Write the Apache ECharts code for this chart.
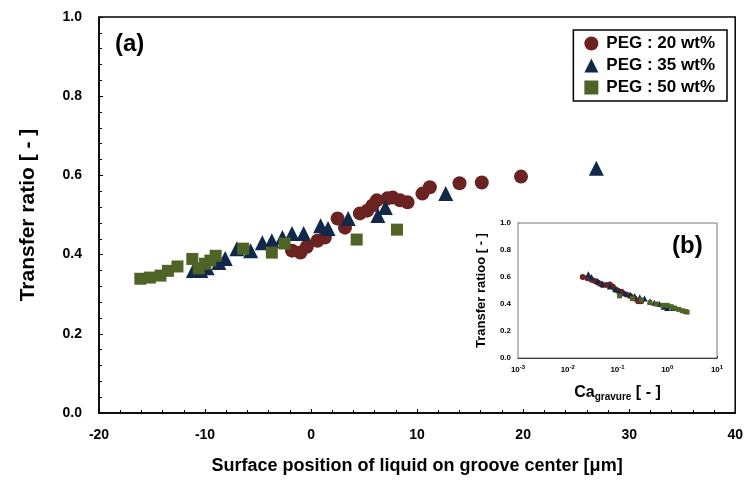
<!DOCTYPE html>
<html>
<head>
<meta charset="utf-8">
<script src="https://cdn.jsdelivr.net/npm/echarts@6/dist/echarts.min.js"></script>
<style>
  html, body { margin: 0; padding: 0; background: #fff; }
  #chart { width: 746px; height: 481px; }
</style>
</head>
<body>
<div id="chart"></div>
<script>
// main panel (a): surface position [um] vs transfer ratio
const peg20 = [
  [-1.8, 0.410], [-1.0, 0.405], [-0.4, 0.420], [0.6, 0.435], [1.3, 0.443],
  [2.5, 0.491], [3.2, 0.468], [4.6, 0.504], [5.3, 0.511], [5.8, 0.524],
  [6.2, 0.537], [7.2, 0.542], [7.7, 0.544], [8.4, 0.537], [9.1, 0.532],
  [10.5, 0.554], [11.2, 0.570], [14.0, 0.580], [16.1, 0.582], [19.8, 0.597]
];
const peg35 = [
  [-11.1, 0.360], [-10.4, 0.360], [-9.8, 0.367], [-8.7, 0.380], [-8.1, 0.390],
  [-7.0, 0.415], [-5.7, 0.410], [-4.6, 0.430], [-3.7, 0.435], [-2.7, 0.443],
  [-1.8, 0.453], [-0.7, 0.453], [0.9, 0.473], [1.6, 0.466], [3.5, 0.491],
  [6.3, 0.499], [7.0, 0.519], [12.7, 0.554], [26.9, 0.618]
];
const peg50 = [
  [-16.1, 0.339], [-15.2, 0.342], [-14.2, 0.347], [-13.5, 0.359], [-12.6, 0.370],
  [-11.2, 0.389], [-10.6, 0.365], [-10.0, 0.377], [-9.5, 0.385], [-9.0, 0.397],
  [-6.4, 0.415], [-3.7, 0.405], [-2.5, 0.428], [4.3, 0.438], [8.1, 0.463]
];

// inset (b): Ca_gravure vs transfer ratio
const inset20 = [
  [0.020, 0.60], [0.025, 0.59], [0.030, 0.58], [0.035, 0.57], [0.040, 0.56],
  [0.045, 0.55], [0.050, 0.54], [0.060, 0.54], [0.070, 0.545], [0.080, 0.53],
  [0.090, 0.51], [0.10, 0.50], [0.12, 0.49], [0.15, 0.47], [0.18, 0.46],
  [0.22, 0.44], [0.26, 0.42], [0.30, 0.42]
];
const inset35 = [
  [0.026, 0.62], [0.030, 0.60], [0.040, 0.57], [0.050, 0.55], [0.070, 0.53],
  [0.090, 0.51], [0.11, 0.49], [0.14, 0.48], [0.18, 0.47], [0.22, 0.46],
  [0.28, 0.45], [0.35, 0.44], [0.45, 0.42], [0.55, 0.41], [0.70, 0.40],
  [0.85, 0.38], [1.0, 0.37], [1.3, 0.37]
];
const inset50 = [
  [0.11, 0.46], [0.20, 0.44], [0.30, 0.43], [0.45, 0.41], [0.60, 0.40],
  [0.80, 0.39], [1.0, 0.39], [1.2, 0.38], [1.4, 0.37], [1.7, 0.36],
  [2.0, 0.35], [2.3, 0.345], [2.5, 0.34]
];

const seriesNames = ['PEG : 20 wt%', 'PEG : 35 wt%', 'PEG : 50 wt%'];
const colors = ['#6b2322', '#10284a', '#4f6326'];

const font = 'Liberation Sans, Arial, sans-serif';

const chart = echarts.init(document.getElementById('chart'));

chart.setOption({
  backgroundColor: '#fff',
  animation: false,
  textStyle: { fontFamily: font },
  title: [
    { text: '(a)', left: 110, top: 27, textStyle: { fontSize: 24, fontWeight: 'bold', color: '#000', fontFamily: font } },
    { text: '(b)', left: 667, top: 229, textStyle: { fontSize: 24, fontWeight: 'bold', color: '#000', fontFamily: font } }
  ],
  legend: {
    data: seriesNames,
    orient: 'vertical',
    right: 19,
    top: 30,
    borderColor: '#000',
    borderWidth: 1.5,
    padding: [5, 12, 5, 11],
    itemGap: 5,
    itemWidth: 14,
    itemHeight: 14,
    textStyle: { fontSize: 17, fontWeight: 'bold', color: '#000', fontFamily: font, padding: [0, 0, 0, 3] }
  },
  grid: [
    { left: 99, top: 17, right: 9, bottom: 68, show: true, borderColor: '#000', borderWidth: 1.5 },
    { left: 518, top: 223, width: 199, height: 135, show: true, borderColor: '#777', borderWidth: 1, backgroundColor: '#fff', z: 3 }
  ],
  xAxis: [
    {
      gridIndex: 0, type: 'value', min: -20, max: 40, interval: 10,
      name: 'Surface position of liquid on groove center [\u03bcm]',
      nameLocation: 'middle', nameGap: 44,
      nameTextStyle: { fontSize: 18, fontWeight: 'bold', color: '#000', fontFamily: font },
      axisLine: { show: true, onZero: false, lineStyle: { color: '#000', width: 1.5 } },
      axisTick: { show: true, inside: true, length: 4, lineStyle: { color: '#000' } },
      minorTick: { show: true, splitNumber: 5, length: 3, lineStyle: { color: '#000' } },
      axisLabel: { fontSize: 14, fontWeight: 'bold', color: '#000', margin: 15 },
      splitLine: { show: false }
    },
    {
      gridIndex: 1, type: 'log', min: 0.001, max: 10, logBase: 10,
      name: '{a|Ca}{b|gravure}{a| [ - ]}',
      nameLocation: 'middle', nameGap: 26,
      nameTextStyle: {
        rich: {
          a: { fontSize: 16, fontWeight: 'bold', color: '#000', fontFamily: font },
          b: { fontSize: 10, fontWeight: 'bold', color: '#000', fontFamily: font, padding: [8, 0, 0, 0] }
        }
      },
      axisLine: { show: true, onZero: false, lineStyle: { color: '#000', width: 1 } },
      axisTick: { show: true, inside: true, length: 2, lineStyle: { color: '#000' } },
      minorTick: { show: false },
      axisLabel: {
        margin: 6,
        formatter: v => '{a|10}{b|' + Math.round(Math.log10(v)) + '}',
        rich: {
          a: { fontSize: 8, fontWeight: 'bold', color: '#000', fontFamily: font },
          b: { fontSize: 6, fontWeight: 'bold', color: '#000', fontFamily: font, padding: [0, 0, 5, 0] }
        }
      },
      splitLine: { show: false }
    }
  ],
  yAxis: [
    {
      gridIndex: 0, type: 'value', min: 0, max: 1, interval: 0.2,
      name: 'Transfer ratio [ - ]',
      nameLocation: 'middle', nameGap: 60,
      nameTextStyle: { fontSize: 21, fontWeight: 'bold', color: '#000', fontFamily: font },
      axisLine: { show: true, onZero: false, lineStyle: { color: '#000', width: 1.5 } },
      axisTick: { show: true, inside: true, length: 4, lineStyle: { color: '#000' } },
      minorTick: { show: true, splitNumber: 5, length: 3, lineStyle: { color: '#000' } },
      axisLabel: { fontSize: 14, fontWeight: 'bold', color: '#000', margin: 17, formatter: v => v.toFixed(1) },
      splitLine: { show: false }
    },
    {
      gridIndex: 1, type: 'value', min: 0, max: 1, interval: 0.2,
      name: 'Transfer ratioo [ - ]',
      nameLocation: 'middle', nameGap: 30,
      nameTextStyle: { fontSize: 13, fontWeight: 'bold', color: '#000', fontFamily: font },
      axisLine: { show: true, onZero: false, lineStyle: { color: '#000', width: 1 } },
      axisTick: { show: true, inside: true, length: 2, lineStyle: { color: '#000' } },
      minorTick: { show: true, splitNumber: 5, length: 1.5, lineStyle: { color: '#000' } },
      axisLabel: { fontSize: 8, fontWeight: 'bold', color: '#000', margin: 7, formatter: v => v.toFixed(1) },
      splitLine: { show: false }
    }
  ],
  series: [
    { name: seriesNames[0], type: 'scatter', xAxisIndex: 0, yAxisIndex: 0, data: peg20, symbol: 'circle', symbolSize: 14, itemStyle: { color: colors[0], opacity: 1 } },
    { name: seriesNames[1], type: 'scatter', xAxisIndex: 0, yAxisIndex: 0, data: peg35, symbol: 'triangle', symbolSize: 15, itemStyle: { color: colors[1], opacity: 1 } },
    { name: seriesNames[2], type: 'scatter', xAxisIndex: 0, yAxisIndex: 0, data: peg50, symbol: 'rect', symbolSize: 12, itemStyle: { color: colors[2], opacity: 1 } },
    { name: seriesNames[0], type: 'scatter', xAxisIndex: 1, yAxisIndex: 1, data: inset20, symbol: 'circle', symbolSize: 6, z: 5, itemStyle: { color: colors[0], opacity: 1 } },
    { name: seriesNames[1], type: 'scatter', xAxisIndex: 1, yAxisIndex: 1, data: inset35, symbol: 'triangle', symbolSize: 6, z: 5, itemStyle: { color: colors[1], opacity: 1 } },
    { name: seriesNames[2], type: 'scatter', xAxisIndex: 1, yAxisIndex: 1, data: inset50, symbol: 'rect', symbolSize: 5, z: 5, itemStyle: { color: colors[2], opacity: 1 } }
  ]
});
</script>
</body>
</html>
